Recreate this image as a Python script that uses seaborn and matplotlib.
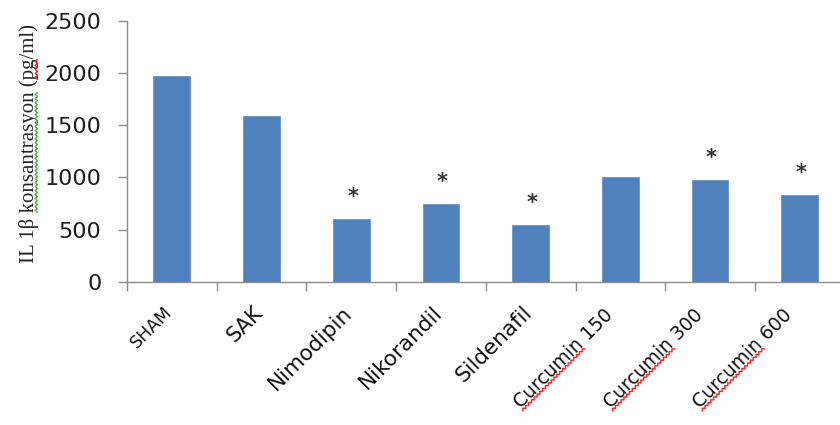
import matplotlib
matplotlib.use("Agg")
import numpy as np
import matplotlib.pyplot as plt
import matplotlib.transforms as mtransforms
from matplotlib.lines import Line2D
import seaborn as sns
import pandas as pd
from matplotlib.ticker import FixedLocator

# IL-1β levels per group
groups = ["SHAM", "SAK", "Nimodipin", "Nikorandil", "Sildenafil",
          "Curcumin 150", "Curcumin 300", "Curcumin 600"]
il1b = [1975, 1590, 600, 745, 545, 1000, 975, 830]
significant = [False, False, True, True, True, False, True, True]
label_sizes = [12.5, 15, 15.5, 15.5, 15.5, 13.5, 13.5, 13.5]
y_ticks = [0, 500, 1000, 1500, 2000, 2500]
y_title = "IL 1β konsantrasyon (pg/ml)"

df = pd.DataFrame({"group": groups, "il1b": il1b})

sns.set_theme(style="white")
plt.rcParams["font.family"] = ["DejaVu Sans"]

fig = plt.figure(figsize=(8.4, 4.25), dpi=100)
ax = fig.add_axes([127 / 840, 0.337, 717.6 / 840, 0.6134])

sns.barplot(data=df, x="group", y="il1b", color="#4F81BD", saturation=1,
            width=0.41, edgecolor="#6C95C8", linewidth=0.6, ax=ax)

ax.set_xlim(-0.5, len(groups) - 0.5)
ax.set_ylim(0, 2500)
ax.set_yticks(y_ticks)

axis_grey = "#8C8C8C"
for side in ("top", "right"):
    ax.spines[side].set_visible(False)
for side in ("left", "bottom"):
    ax.spines[side].set_color(axis_grey)
    ax.spines[side].set_linewidth(1.0)

ax.tick_params(axis="y", which="major", direction="out", length=6.5, width=1,
               color=axis_grey, pad=12, labelsize=16, labelcolor="#1e1e1e", left=True)

# category boundary ticks on the x axis
ax.xaxis.set_minor_locator(FixedLocator([i - 0.5 for i in range(len(groups) + 1)]))
ax.tick_params(axis="x", which="minor", direction="out", length=6.5, width=1,
               color=axis_grey, bottom=True)
ax.tick_params(axis="x", which="major", length=0, pad=15, labelcolor="#111111")

ax.set_xticks(range(len(groups)))
ax.set_xticklabels(groups, rotation=45, ha="right", rotation_mode="anchor")
for lbl, fs in zip(ax.get_xticklabels(), label_sizes):
    lbl.set_fontsize(fs)
    dx, dy = (-17, -3) if lbl.get_text().startswith("Curcumin") else (-9, 0)
    shift = mtransforms.ScaledTranslation(dx / 100, dy / 100, fig.dpi_scale_trans)
    lbl.set_transform(lbl.get_transform() + shift)

ax.set_xlabel("")
ax.set_ylabel(y_title, family=["Liberation Serif"],
              fontsize=15, color="#262626", labelpad=4)
ax.yaxis.set_label_coords(-0.123, 0.53)

# significance markers above the bars
for i, (v, sig) in enumerate(zip(il1b, significant)):
    if sig:
        ax.annotate("*", xy=(i, v), xytext=(1, 16), textcoords="offset points",
                    ha="center", va="center", fontsize=15, color="#333333",
                    fontweight="bold")


def wavy_underline(text, start, word, color):
    """Draw a wavy proofing line under `word`, which begins at `start` in `text`."""
    renderer = fig.canvas.get_renderer()
    probe = fig.text(0, 0, text.get_text(), fontproperties=text.get_fontproperties())
    full = probe.get_window_extent(renderer)
    probe.set_text(start if start else " ")
    pre = probe.get_window_extent(renderer).width if start else 0.0
    probe.set_text(word)
    wlen = probe.get_window_extent(renderer).width
    probe.remove()
    W, H = full.width, full.height
    bb = text.get_window_extent(renderer)
    cx, cy = (bb.x0 + bb.x1) / 2, (bb.y0 + bb.y1) / 2
    theta = np.deg2rad(text.get_rotation())
    xs = np.arange(-W / 2 + pre, -W / 2 + pre + wlen + 0.1, 2.0)
    ys = -H / 2 + 0.12 * H + np.where(np.arange(len(xs)) % 2 == 0, -1.1, 1.1)
    px = cx + xs * np.cos(theta) - ys * np.sin(theta)
    py = cy + xs * np.sin(theta) + ys * np.cos(theta)
    fig.add_artist(Line2D(px, py, transform=None, color=color, linewidth=1.0))


fig.canvas.draw()
for lbl in ax.get_xticklabels():
    if lbl.get_text().startswith("Curcumin"):
        wavy_underline(lbl, "", "Curcumin", "#FF2020")
ylab = ax.yaxis.label
wavy_underline(ylab, "IL 1β ", "konsantrasyon", "#4CB050")
wavy_underline(ylab, "IL 1β konsantrasyon (", "pg", "#FF2020")

fig.savefig("out.png", dpi=100)
